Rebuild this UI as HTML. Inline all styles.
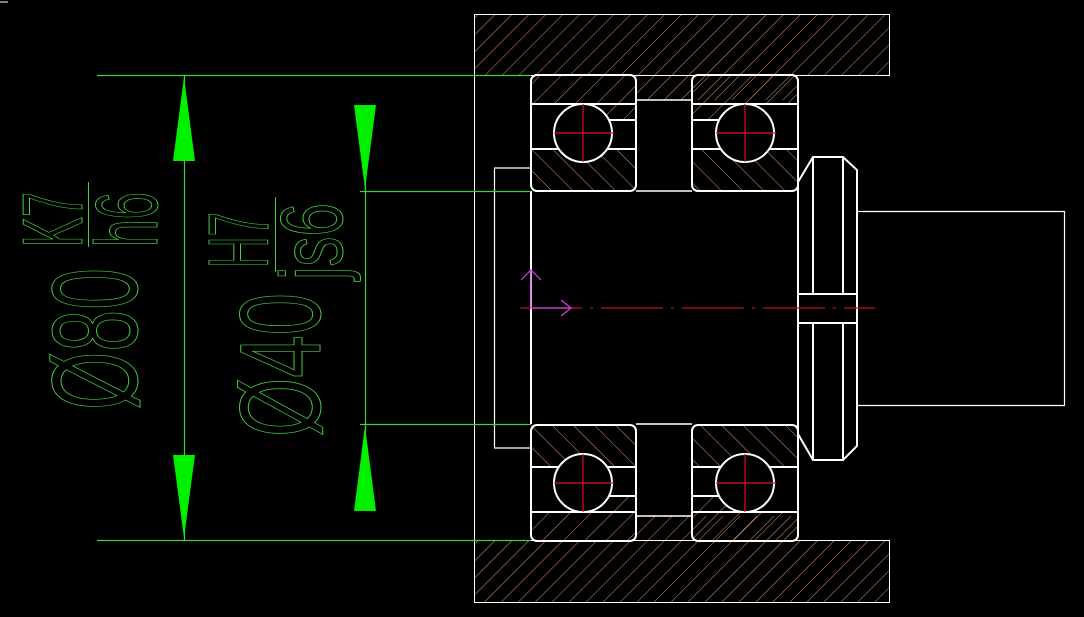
<!DOCTYPE html>
<html><head><meta charset="utf-8"><style>
html,body{margin:0;padding:0;background:#000;width:1084px;height:617px;overflow:hidden}
svg{display:block}
</style></head><body>
<svg width="1084" height="617" viewBox="0 0 1084 617" xmlns="http://www.w3.org/2000/svg">
<defs>
<pattern id="hH" patternUnits="userSpaceOnUse" width="12" height="12" patternTransform="rotate(45)">
<line x1="0" y1="0" x2="0" y2="12" stroke="#e0946a" stroke-width="1"/></pattern>
<pattern id="hA" patternUnits="userSpaceOnUse" width="15" height="15" patternTransform="rotate(45)">
<line x1="0" y1="0" x2="0" y2="15" stroke="#e0946a" stroke-width="1"/></pattern>
<pattern id="hB" patternUnits="userSpaceOnUse" width="15" height="15" patternTransform="rotate(-45)">
<line x1="0" y1="0" x2="0" y2="15" stroke="#e0946a" stroke-width="1"/></pattern>
</defs>
<rect width="1084" height="617" fill="#000"/>
<line x1="0" y1="2" x2="8" y2="2" stroke="#fff" stroke-width="1"/>

<path d="M474,14 H889 V75 H798 V100 H636 V75 H474 Z" fill="url(#hH)"/>
<rect x="474.5" y="14.5" width="415" height="61" fill="none" stroke="#fff" stroke-width="1"/>
<path d="M474,602 H889 V540 H798 V516 H636 V540 H474 Z" fill="url(#hH)"/>
<rect x="474.5" y="540.5" width="415" height="62" fill="none" stroke="#fff" stroke-width="1"/>
<line x1="474.5" y1="75" x2="474.5" y2="540" stroke="#fff" stroke-width="1"/>
<line x1="636" y1="100" x2="692" y2="100" stroke="#fff" stroke-width="1.5"/>
<line x1="636" y1="516" x2="692" y2="516" stroke="#fff" stroke-width="1.5"/>
<line x1="636" y1="191" x2="692" y2="191" stroke="#fff" stroke-width="1.5"/>
<line x1="636" y1="424" x2="692" y2="424" stroke="#fff" stroke-width="1.5"/>

<g>
<path d="M531,104 V81 Q531,75 537,75 H630 Q636,75 636,81 V120 H609 A29,29 0 0 0 583,104 Z" fill="url(#hA)"/>
<path d="M531,149 V191 H636 V149 H605 A29,29 0 0 1 561,149 Z" fill="url(#hB)"/>
<path d="M692,104 V81 Q692,75 698,75 H792 Q798,75 798,81 V104 H745 A29,29 0 0 0 719,120 H692 Z" fill="url(#hA)"/>
<path d="M692,149 V191 H798 V149 H767 A29,29 0 0 1 723,149 Z" fill="url(#hB)"/>
</g>
<g transform="translate(0,616) scale(1,-1)">
<path d="M531,104 V81 Q531,75 537,75 H630 Q636,75 636,81 V120 H609 A29,29 0 0 0 583,104 Z" fill="url(#hB)"/>
<path d="M531,149 V191 H636 V149 H605 A29,29 0 0 1 561,149 Z" fill="url(#hA)"/>
<path d="M692,104 V81 Q692,75 698,75 H792 Q798,75 798,81 V104 H745 A29,29 0 0 0 719,120 H692 Z" fill="url(#hB)"/>
<path d="M692,149 V191 H798 V149 H767 A29,29 0 0 1 723,149 Z" fill="url(#hA)"/>
</g>
<g fill="none" stroke="#fff" stroke-width="2">
<rect x="531" y="75" width="105" height="116" rx="6"/>
<line x1="531" y1="104" x2="636" y2="104"/>
<line x1="531" y1="149" x2="562" y2="149"/><line x1="604" y1="149" x2="636" y2="149"/>
<line x1="609" y1="120" x2="636" y2="120"/>
<circle cx="583" cy="133" r="29" fill="#000"/>
<rect x="692" y="75" width="106" height="116" rx="6"/>
<line x1="692" y1="104" x2="798" y2="104"/>
<line x1="692" y1="149" x2="724" y2="149"/><line x1="766" y1="149" x2="798" y2="149"/>
<line x1="692" y1="120" x2="720" y2="120"/>
<circle cx="745" cy="133" r="29" fill="#000"/>
</g>
<g transform="translate(0,616) scale(1,-1)" fill="none" stroke="#fff" stroke-width="2">
<rect x="531" y="75" width="105" height="116" rx="6"/>
<line x1="531" y1="104" x2="636" y2="104"/>
<line x1="531" y1="149" x2="562" y2="149"/><line x1="604" y1="149" x2="636" y2="149"/>
<line x1="609" y1="120" x2="636" y2="120"/>
<circle cx="583" cy="133" r="29" fill="#000"/>
<rect x="692" y="75" width="106" height="116" rx="6"/>
<line x1="692" y1="104" x2="798" y2="104"/>
<line x1="692" y1="149" x2="724" y2="149"/><line x1="766" y1="149" x2="798" y2="149"/>
<line x1="692" y1="120" x2="720" y2="120"/>
<circle cx="745" cy="133" r="29" fill="#000"/>
</g>
<g stroke="#e0102a" stroke-width="1.2">
<line x1="554" y1="133" x2="614" y2="133"/><line x1="583" y1="104" x2="583" y2="162"/>
<line x1="716" y1="133" x2="776" y2="133"/><line x1="745" y1="104" x2="745" y2="162"/>
<line x1="554" y1="483" x2="614" y2="483"/><line x1="583" y1="454" x2="583" y2="512"/>
<line x1="716" y1="483" x2="776" y2="483"/><line x1="745" y1="454" x2="745" y2="512"/>
</g>

<g fill="none" stroke="#fff">
<line x1="531" y1="191" x2="531" y2="424" stroke-width="2"/>
<line x1="798" y1="180" x2="798" y2="436" stroke-width="2"/>
<polyline points="531,168 494.5,168 494.5,448 531,448" stroke-width="1.2"/>
<path d="M798,182 L813,157 H843 L857,170 V446 L843,460 H813 L798,434" stroke-width="2"/>
<line x1="813" y1="157" x2="813" y2="294" stroke-width="2"/>
<line x1="843" y1="157" x2="843" y2="294" stroke-width="2"/>
<line x1="813" y1="323" x2="813" y2="460" stroke-width="2"/>
<line x1="843" y1="323" x2="843" y2="460" stroke-width="2"/>
<line x1="798" y1="294" x2="856" y2="294" stroke-width="2"/>
<line x1="798" y1="323" x2="856" y2="323" stroke-width="2"/>
<polyline points="857,211.5 1064.5,211.5 1064.5,405.5 857,405.5" stroke-width="1.2"/>
</g>
<line x1="520" y1="308" x2="875" y2="308" stroke="#c01020" stroke-width="1.2" stroke-dasharray="62,8,3,8"/>
<g stroke="#d040e0" stroke-width="1.2" fill="none">
<line x1="531" y1="308" x2="571" y2="308"/><polyline points="561,300 571,308 561,316"/>
<line x1="531" y1="308" x2="531" y2="270"/><polyline points="521,280 531,270 541,280"/>
</g>

<g stroke="#40d040" stroke-width="1.2">
<line x1="97" y1="75.5" x2="531" y2="75.5"/>
<line x1="97" y1="540.5" x2="531" y2="540.5"/>
<line x1="360" y1="191.5" x2="531" y2="191.5"/>
<line x1="360" y1="424.5" x2="531" y2="424.5"/>
<line x1="184.5" y1="75" x2="184.5" y2="540"/>
<line x1="365.5" y1="105" x2="365.5" y2="511"/>
</g>
<g fill="#00f000">
<polygon points="184,77 173,161 195,161"/>
<polygon points="184,538 173,455 195,455"/>
<polygon points="365,189 354,105 376,105"/>
<polygon points="365,426 354,511 376,511"/>
</g>
<g fill="none" stroke="#40d040" stroke-width="1" font-family="Liberation Sans, sans-serif">
<text transform="translate(137,410) rotate(-90)" font-size="122" textLength="142" lengthAdjust="spacingAndGlyphs">Ø80</text>
<text transform="translate(82,247) rotate(-90)" font-size="85" textLength="55" lengthAdjust="spacingAndGlyphs">K7</text>
<text transform="translate(157,247) rotate(-90)" font-size="88" textLength="55" lengthAdjust="spacingAndGlyphs">h6</text>
<line x1="88.5" y1="182" x2="88.5" y2="247"/>
<text transform="translate(320,437) rotate(-90)" font-size="115" textLength="144" lengthAdjust="spacingAndGlyphs">Ø40</text>
<text transform="translate(268,268) rotate(-90)" font-size="85" textLength="56" lengthAdjust="spacingAndGlyphs">H7</text>
<text transform="translate(342,280) rotate(-90)" font-size="88" textLength="77" lengthAdjust="spacingAndGlyphs">js6</text>
<line x1="275.5" y1="197" x2="275.5" y2="272"/>
</g>
</svg>
</body></html>
